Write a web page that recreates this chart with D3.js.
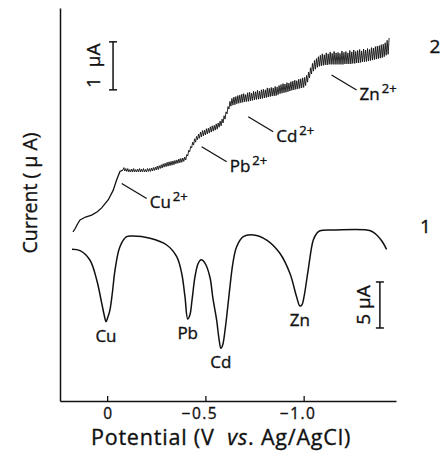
<!DOCTYPE html>
<html>
<head>
<meta charset="utf-8">
<script src="https://cdn.jsdelivr.net/npm/d3@7"></script>
<style>
  body { margin: 0; background: #fff; }
  svg text { font-family: "Open Sans", sans-serif; fill: #111; stroke: #111; stroke-width: 0.35px; }
</style>
</head>
<body>
<div id="viz"></div>
<script>
// curve 1 : stripping voltammogram, [potential (V), current (uA)]
var curve1 = [
  [0.179, -2.10], [0.138, -2.25], [0.088, -3.26], [0.053, -5.43], [0.028, -7.93],
  [0.014, -9.35], [0.006, -9.97], [-0.002, -9.57], [-0.014, -8.70], [-0.027, -6.74],
  [-0.040, -4.35], [-0.065, -1.82], [-0.099, -0.73], [-0.131, -0.65], [-0.218, -0.90],
  [-0.303, -1.63], [-0.354, -2.90], [-0.379, -4.67], [-0.396, -7.25], [-0.410, -9.67],
  [-0.421, -9.24], [-0.432, -7.60], [-0.447, -5.08], [-0.462, -3.70], [-0.475, -3.26],
  [-0.488, -3.32], [-0.503, -3.80], [-0.524, -5.22], [-0.538, -7.39], [-0.557, -9.78],
  [-0.570, -11.96], [-0.579, -12.86], [-0.588, -12.50], [-0.600, -10.87], [-0.612, -8.70],
  [-0.625, -6.16], [-0.640, -3.59], [-0.659, -1.82], [-0.693, -0.73], [-0.744, -0.54],
  [-0.812, -1.09], [-0.879, -2.53], [-0.930, -4.71], [-0.964, -7.25], [-0.981, -8.26],
  [-0.991, -8.15], [-1.002, -7.25], [-1.023, -4.35], [-1.049, -1.09], [-1.068, -0.33],
  [-1.083, -0.08], [-1.151, 0], [-1.321, 0], [-1.348, -0.16], [-1.372, -0.54],
  [-1.398, -1.20], [-1.422, -2.10]
];

// curve 2 : current vs potential, quiet start
var curve2Rise = [
  [0.174, -0.04], [0.164, 0.02], [0.150, 0.13], [0.138, 0.21], [0.110, 0.27],
  [0.079, 0.31], [0.050, 0.38], [0.028, 0.46], [-0.006, 0.63], [-0.031, 0.83],
  [-0.048, 1.04], [-0.065, 1.22], [-0.080, 1.25]
];

// curve 2 : noisy part, sampled every 5 mV from -0.08 V
var curve2Start = -0.08,
    curve2Step = -0.005;
var curve2Noisy = [
  1.25, 1.30, 1.23, 1.28, 1.22, 1.28, 1.21, 1.26, 1.21, 1.27, 1.21, 1.28, 1.21, 1.26, 1.21, 1.27, 1.21, 1.28, 1.21, 1.27,
  1.21, 1.28, 1.21, 1.26, 1.21, 1.28, 1.22, 1.28, 1.22, 1.29, 1.23, 1.30, 1.24, 1.31, 1.25, 1.33, 1.26, 1.34, 1.28, 1.36,
  1.29, 1.38, 1.31, 1.39, 1.32, 1.41, 1.33, 1.42, 1.34, 1.43, 1.35, 1.44, 1.36, 1.45, 1.38, 1.46, 1.39, 1.48, 1.40, 1.49,
  1.41, 1.50, 1.43, 1.52, 1.46, 1.57, 1.54, 1.66, 1.63, 1.74, 1.71, 1.83, 1.77, 1.90, 1.83, 1.95, 1.88, 2.00, 1.91, 2.04,
  1.94, 2.07, 1.96, 2.08, 1.98, 2.11, 2.00, 2.12, 2.02, 2.15, 2.04, 2.17, 2.06, 2.18, 2.08, 2.21, 2.10, 2.23, 2.14, 2.27,
  2.17, 2.31, 2.23, 2.38, 2.31, 2.46, 2.42, 2.57, 2.52, 2.68, 2.58, 2.74, 2.60, 2.77, 2.61, 2.78, 2.63, 2.80, 2.64, 2.81,
  2.65, 2.83, 2.66, 2.84, 2.67, 2.82, 2.675, 2.86, 2.68, 2.87, 2.69, 2.85, 2.70, 2.89, 2.71, 2.88, 2.72, 2.91, 2.725, 2.89,
  2.73, 2.92, 2.74, 2.93, 2.75, 2.92, 2.76, 2.96, 2.77, 2.95, 2.78, 2.97, 2.79, 2.96, 2.795, 2.99, 2.80, 2.98, 2.82, 3.01,
  2.84, 3.03, 2.85, 3.05, 2.86, 3.04, 2.87, 3.07, 2.88, 3.06, 2.895, 3.09, 2.91, 3.10, 2.92, 3.12, 2.93, 3.11, 2.94, 3.14,
  2.95, 3.15, 2.96, 3.17, 2.97, 3.18, 3.01, 3.22, 3.08, 3.29, 3.17, 3.38, 3.25, 3.47, 3.31, 3.53, 3.35, 3.57, 3.39, 3.61,
  3.41, 3.64, 3.42, 3.67, 3.43, 3.65, 3.44, 3.69, 3.44, 3.67, 3.45, 3.71, 3.45, 3.68, 3.45, 3.72, 3.45, 3.69, 3.45, 3.70,
  3.45, 3.68, 3.45, 3.73, 3.45, 3.70, 3.46, 3.72, 3.46, 3.69, 3.46, 3.74, 3.46, 3.71, 3.47, 3.75, 3.47, 3.72, 3.48, 3.74,
  3.48, 3.76, 3.49, 3.73, 3.50, 3.77, 3.505, 3.75, 3.51, 3.78, 3.52, 3.76, 3.53, 3.80, 3.54, 3.79, 3.55, 3.82, 3.56, 3.83,
  3.57, 3.84, 3.58, 3.86, 3.59, 3.87, 3.61, 3.90, 3.64, 3.95, 3.66, 4.00
];

var peakNames = ["Cu", "Pb", "Cd", "Zn"],
    peakPotential = [0.006, -0.410, -0.579, -0.981],
    peakCurrent = [-9.97, -9.67, -12.86, -8.26];

var ionNames = ["Cu", "Pb", "Cd", "Zn"],
    ionCharge = ["2+", "2+", "2+", "2+"],
    ionPotential = [-0.074, -0.481, -0.718, -1.142],
    ionCurrent = [0.97, 1.735, 2.36, 3.23];

var xTicks = [0, -0.5, -1.0],
    xTickLabels = ["0", "\u22120.5", "\u22121.0"];

var width = 445,
    height = 461;

// scales
var xScale = d3.scaleLinear().domain([0.24, -1.47]).range([60, 396]);
var y1 = d3.scaleLinear().domain([0, -10]).range([230, 322]);
var y2 = d3.scaleLinear().domain([0, 4]).range([230, 38]);
var yFrame = d3.scaleLinear().domain([0, 1]).range([401, 8]);

var svg = d3.select("#viz").append("svg")
    .attr("width", width)
    .attr("height", height);

svg.append("rect").attr("width", width).attr("height", height).attr("fill", "#fff");

// axes
var xGuide = svg.append("g")
    .attr("transform", "translate(0,401)")
    .call(d3.axisBottom(xScale)
      .tickValues(xTicks)
      .tickFormat(function(d, i) { return xTickLabels[i]; })
      .tickSizeInner(-5)
      .tickSizeOuter(0)
      .tickPadding(7));
xGuide.attr("font-family", null).attr("font-size", 15.5);
xGuide.select(".domain").attr("stroke", "#111").attr("stroke-width", 1.5);
xGuide.selectAll(".tick line").attr("stroke", "#111").attr("stroke-width", 1.3);
xGuide.selectAll(".tick text")
  .attr("dx", function(d, i) { return i ? -6 : 0; })
  .attr("letter-spacing", function(d, i) { return i ? 1.5 : 0; });

var yGuide = svg.append("g")
    .attr("transform", "translate(60,0)")
    .call(d3.axisLeft(yFrame).tickValues([]).tickSizeOuter(0));
yGuide.select(".domain").attr("stroke", "#111").attr("stroke-width", 1.5);

// curve 1
var line1 = d3.line()
    .x(function(d) { return xScale(d[0]); })
    .y(function(d) { return y1(d[1]); })
    .curve(d3.curveCatmullRom.alpha(0.5));

svg.append("path")
  .attr("d", line1(curve1))
  .attr("fill", "none")
  .attr("stroke", "#111")
  .attr("stroke-width", 1.5);

// curve 2
var line2 = d3.line()
    .x(function(d) { return xScale(d[0]); })
    .y(function(d) { return y2(d[1]); });

svg.append("path")
  .attr("d", line2(curve2Rise))
  .attr("fill", "none")
  .attr("stroke", "#111")
  .attr("stroke-width", 1.3);

var noisyPoints = curve2Noisy.map(function(v, i) {
  return [curve2Start + i * curve2Step, v];
});

svg.append("path")
  .attr("d", line2(noisyPoints))
  .attr("fill", "none")
  .attr("stroke", "#111")
  .attr("stroke-width", 0.9);

// peak labels under curve 1
peakNames.forEach(function(name, i) {
  svg.append("text")
    .attr("x", xScale(peakPotential[i]))
    .attr("y", y1(peakCurrent[i]) + 20)
    .attr("text-anchor", "middle")
    .attr("font-size", 17)
    .text(name);
});

// ion labels with leader lines on curve 2
ionNames.forEach(function(name, i) {
  var ax = xScale(ionPotential[i]),
      ay = y2(ionCurrent[i]);
  svg.append("line")
    .attr("x1", ax).attr("y1", ay)
    .attr("x2", ax + 25).attr("y2", ay + 15)
    .attr("stroke", "#111")
    .attr("stroke-width", 1.3);
  var t = svg.append("text")
    .attr("x", ax + 28)
    .attr("y", ay + 25)
    .attr("font-size", 17)
    .text(name);
  t.append("tspan")
    .attr("dx", 2)
    .attr("dy", -7)
    .attr("font-size", 13)
    .text(ionCharge[i]);
});

// scale bars
function scaleBar(x, yTop, yBottom) {
  svg.append("line").attr("x1", x).attr("x2", x).attr("y1", yTop).attr("y2", yBottom)
    .attr("stroke", "#111").attr("stroke-width", 1.5);
  [yTop, yBottom].forEach(function(y) {
    svg.append("line").attr("x1", x - 4).attr("x2", x + 4).attr("y1", y).attr("y2", y)
      .attr("stroke", "#111").attr("stroke-width", 1.5);
  });
}

var bar2x = xScale(-0.03);
scaleBar(bar2x, y2(3.92), y2(2.92));
svg.append("text")
  .attr("transform", "translate(" + (bar2x - 13) + "," + y2(3.42) + ") rotate(-90)")
  .attr("text-anchor", "middle")
  .attr("font-size", 19)
  .text("1\u00a0 \u03bcA");

var bar1x = xScale(-1.388);
scaleBar(bar1x, y1(-5.65), y1(-10.65));
svg.append("text")
  .attr("transform", "translate(" + (bar1x - 10) + "," + y1(-8.15) + ") rotate(-90)")
  .attr("text-anchor", "middle")
  .attr("font-size", 19)
  .text("5 \u03bcA");

// curve numbers
svg.append("text").attr("x", 425.5).attr("y", 233).attr("text-anchor", "middle")
  .attr("font-size", 19).text("1");
svg.append("text").attr("x", 435).attr("y", 53).attr("text-anchor", "middle")
  .attr("font-size", 19).text("2");

// axis titles
svg.append("text")
  .attr("transform", "translate(37,193) rotate(-90)")
  .attr("text-anchor", "middle")
  .attr("font-size", 19.5)
  .text("Current ( \u03bc A)");

var xTitle = svg.append("text")
  .attr("x", 221)
  .attr("y", 445)
  .attr("text-anchor", "middle")
  .attr("font-size", 21.5)
  .attr("letter-spacing", 0.8);
xTitle.append("tspan").text("Potential (V\u00a0 ");
xTitle.append("tspan").attr("font-style", "italic").text("vs");
xTitle.append("tspan").text(". Ag/AgCl)");
</script>
</body>
</html>
